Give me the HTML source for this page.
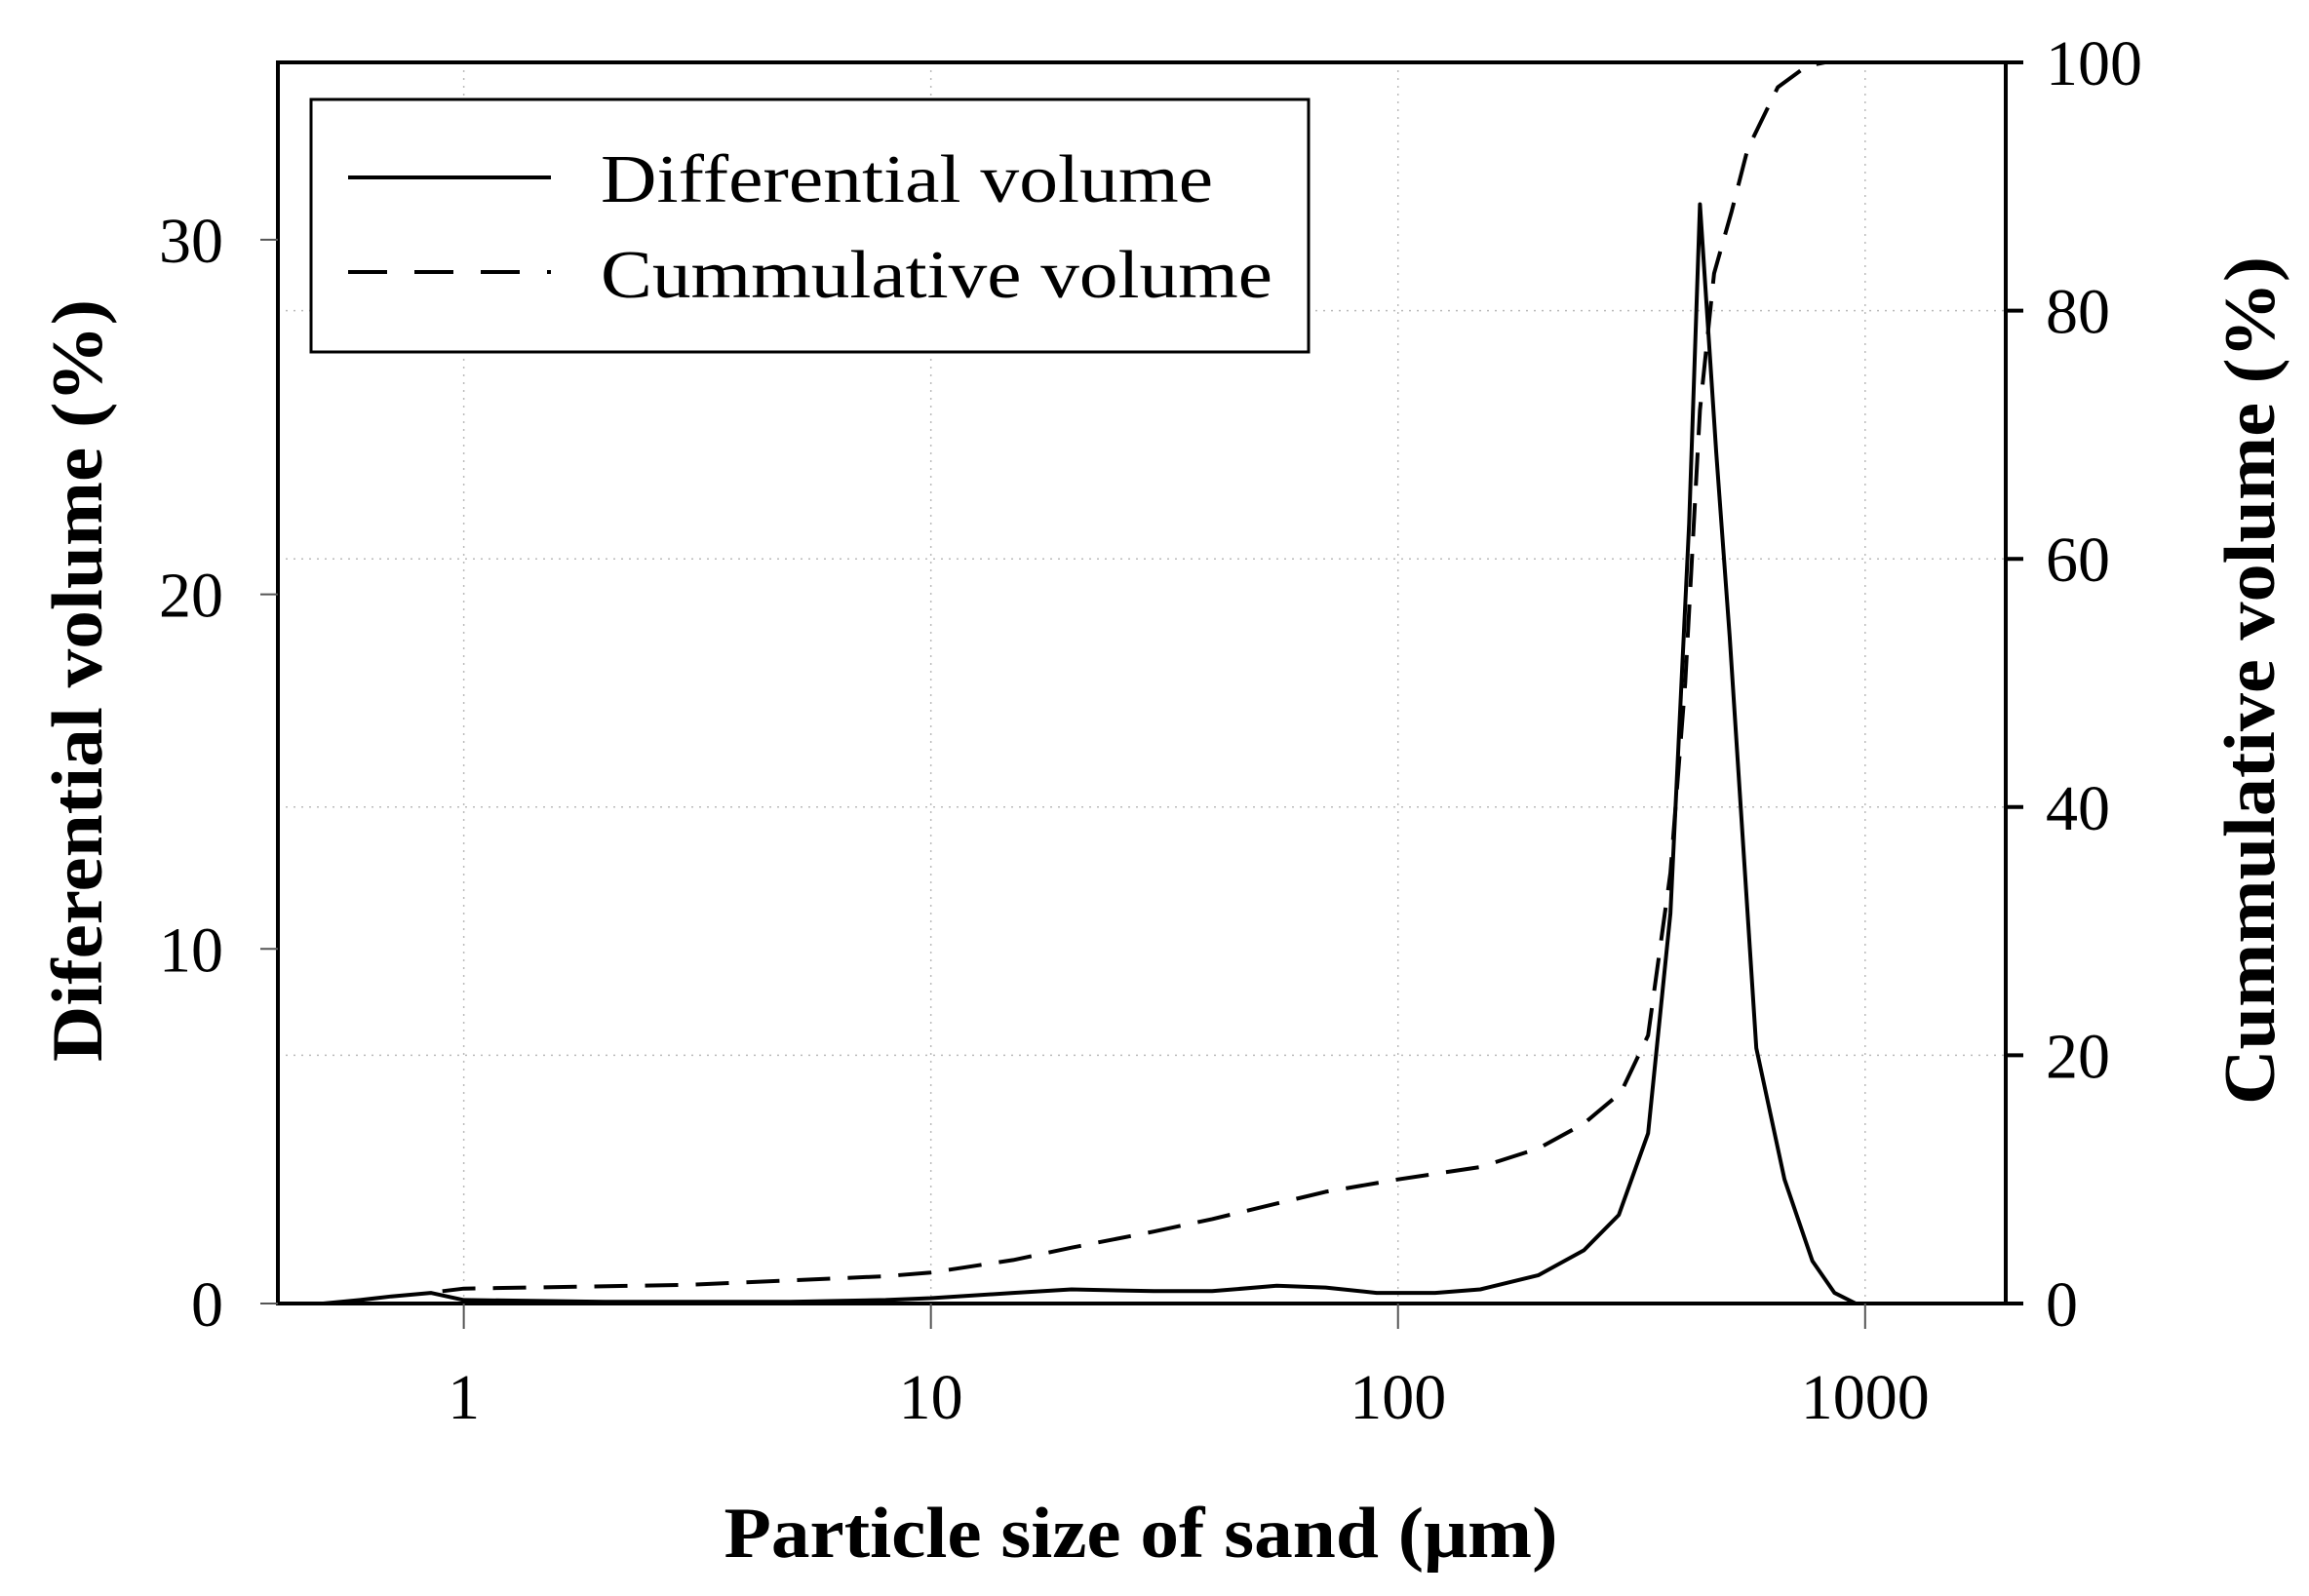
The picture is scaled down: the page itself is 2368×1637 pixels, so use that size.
<!DOCTYPE html>
<html><head><meta charset="utf-8"><style>
html,body{margin:0;padding:0;background:#fff;}
svg{display:block;}
text{font-family:"Liberation Serif","DejaVu Serif",serif;fill:#000;}
</style></head><body>
<svg id="chart" width="2368" height="1637" viewBox="0 0 2368 1637" xmlns="http://www.w3.org/2000/svg">
<g id="grid"></g>
<g id="series"></g>
<rect x="285" y="64" width="1772" height="1273" fill="none" stroke="#000" stroke-width="4"/>
<g id="axes"></g>
<g>
<rect x="319" y="102" width="1023" height="259" fill="#fff" stroke="#000" stroke-width="3"/>
<line x1="357" y1="182" x2="565" y2="182" stroke="#000" stroke-width="4"/>
<text x="616" y="207" font-size="70" textLength="628" lengthAdjust="spacingAndGlyphs">Differential volume</text>
<line x1="357" y1="279" x2="565" y2="279" stroke="#000" stroke-width="4" stroke-dasharray="40 28"/>
<text x="616" y="305" font-size="70" textLength="689" lengthAdjust="spacingAndGlyphs">Cummulative volume</text>
</g>
<text x="1170" y="1597" font-size="74" font-weight="bold" text-anchor="middle" textLength="855" lengthAdjust="spacingAndGlyphs">Particle size of sand (μm)</text>
<text transform="translate(104,698) rotate(-90)" font-size="74" font-weight="bold" text-anchor="middle" textLength="782" lengthAdjust="spacingAndGlyphs">Diferential volume (%)</text>
<text transform="translate(2332,698) rotate(-90)" font-size="74" font-weight="bold" text-anchor="middle" textLength="870" lengthAdjust="spacingAndGlyphs">Cummulative volume (%)</text>
</svg>
<script>
const xTicks = [1, 10, 100, 1000];
const xTickLabels = ["1", "10", "100", "1000"];
const leftTicks = [0, 10, 20, 30];
const rightTicks = [0, 20, 40, 60, 80, 100];
const diffX = [0.5,0.6,0.7,0.85,1,2,5,8,10,15,20,30,40,55,70,90,120,150,200,250,297,343,383,420,443,480,513,585,672,771,860,955];
const diffY = [0,0.1,0.2,0.3,0.1,0.05,0.05,0.1,0.15,0.3,0.4,0.35,0.35,0.5,0.45,0.3,0.3,0.4,0.8,1.5,2.5,4.8,11,22,31,24,18.8,7.2,3.5,1.2,0.3,0];
const cumX = [0.9,1,3,8,10,15,20,30,40,70,100,150,200,250,300,343,383,412,443,475,518,560,650,750,820,2000];
const cumY = [1,1.2,1.5,2.2,2.5,3.5,4.5,5.8,6.8,9,10,11,12.5,14.5,17,21.6,34.7,50,72,83,88,93,98,99.7,100,100];

const X0 = 285, X1 = 2057, Y0 = 1337, Y1 = 64;
const LMIN = Math.log10(0.4), LMAX = Math.log10(2000);
function xs(v){ return X0 + (Math.log10(v) - LMIN) / (LMAX - LMIN) * (X1 - X0); }
function yl(v){ return Y0 - v / 35 * (Y0 - Y1); }
function yr(v){ return Y0 - v / 100 * (Y0 - Y1); }
const NS = "http://www.w3.org/2000/svg";
function mk(tag, attrs, parent){
  const e = document.createElementNS(NS, tag);
  for (const k in attrs) e.setAttribute(k, attrs[k]);
  parent.appendChild(e); return e;
}
const grid = document.getElementById('grid');
const axes = document.getElementById('axes');
const series = document.getElementById('series');

xTicks.forEach((t, i) => {
  const x = xs(t);
  const g = mk('line', {x1:x, y1:Y1, x2:x, y2:Y0, stroke:'#bbb', 'stroke-width':1.5, 'stroke-dasharray':'2 6'}, grid);
  
  
  const tk = mk('line', {x1:x, y1:Y0, x2:x, y2:Y0+26, stroke:'#555', 'stroke-width':2}, axes);
  
  
  const lb = mk('text', {x:x, y:1455, 'font-size':66, 'text-anchor':'middle'}, axes);
  lb.textContent = xTickLabels[i];
  
  
});
rightTicks.forEach(t => {
  const y = yr(t);
  if (t > 0 && t < 100) {
    const g = mk('line', {x1:X0, y1:y, x2:X1, y2:y, stroke:'#bbb', 'stroke-width':1.5, 'stroke-dasharray':'2 6'}, grid);
    
    
  }
  const tk = mk('line', {x1:X1, y1:y, x2:X1+18, y2:y, stroke:'#000', 'stroke-width':4}, axes);
  
  
  const lb = mk('text', {x:2098, y:y+23, 'font-size':66}, axes);
  lb.textContent = String(t);
  
  
});
leftTicks.forEach(t => {
  const y = yl(t);
  const tk = mk('line', {x1:X0-18, y1:y, x2:X0, y2:y, stroke:'#555', 'stroke-width':2}, axes);
  
  
  const lb = mk('text', {x:229, y:y+23, 'font-size':66, 'text-anchor':'end'}, axes);
  lb.textContent = String(t);
  
  
});
const dPts = diffX.map((v, i) => xs(v).toFixed(1) + ',' + yl(diffY[i]).toFixed(1)).join(' ');
const dl = mk('polyline', {points:dPts, fill:'none', stroke:'#000', 'stroke-width':4, 'stroke-linejoin':'round'}, series);


const cPts = cumX.map((v, i) => xs(v).toFixed(1) + ',' + yr(cumY[i]).toFixed(1)).join(' ');
const cl = mk('polyline', {points:cPts, fill:'none', stroke:'#000', 'stroke-width':4, 'stroke-dasharray':'34 18', 'stroke-linejoin':'round'}, series);


</script>
</body></html>
